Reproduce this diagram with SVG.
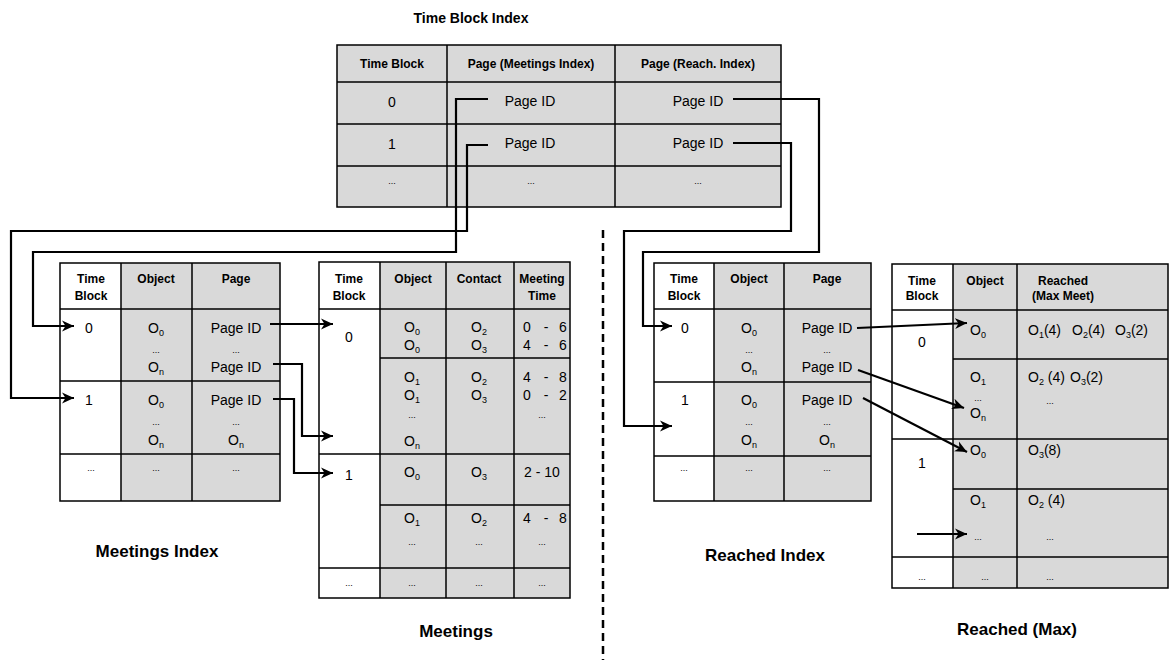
<svg xmlns="http://www.w3.org/2000/svg" width="1170" height="660" viewBox="0 0 1170 660">
<defs>
<marker id="arrow" markerUnits="userSpaceOnUse" markerWidth="14" markerHeight="12" refX="12" refY="6" orient="auto"><path d="M0,0.5 L12,6 L0,11.5 L3.5,6 Z" fill="#000"/></marker>
<style>
.g{fill:#d9d9d9}
.w{fill:#fff}
.frame{fill:none;stroke:#000;stroke-width:1.5}
.grid{fill:none;stroke:#000;stroke-width:1.5}
text{font-family:"Liberation Sans",Arial,Helvetica,sans-serif;fill:#000}
.h{font-size:12px;font-weight:bold;text-anchor:middle}
.t{font-size:14px;text-anchor:middle}
.l{font-size:14px}
.s{font-size:9px}
.d{font-size:9px;text-anchor:middle}
.title{font-size:17px;font-weight:bold;text-anchor:middle}
.link{fill:none;stroke:#000;stroke-width:2.2;marker-end:url(#arrow)}
.sep{fill:none;stroke:#000;stroke-width:2.5;stroke-dasharray:8 5}
</style>
</defs>
<rect width="1170" height="660" fill="#fff"/>

<!-- Time block index -->
<g id="time-block-index">
<text class="title" x="471" y="23" style="font-size:14px">Time Block Index</text>
<rect x="337" y="45" width="444" height="162" class="g"/>
<path class="grid" d="M337 82H781M337 124H781M337 166H781M447 45V207M615 45V207"/>
<rect class="frame" x="337" y="45" width="444" height="162"/>
<text class="h" x="392" y="68">Time Block</text>
<text class="h" x="531" y="68">Page (Meetings Index)</text>
<text class="h" x="698" y="68">Page (Reach. Index)</text>
<text class="t" x="392" y="107">0</text>
<text class="t" x="530" y="106">Page ID</text>
<text class="t" x="698" y="106">Page ID</text>
<text class="t" x="392" y="149">1</text>
<text class="t" x="530" y="148">Page ID</text>
<text class="t" x="698" y="148">Page ID</text>
<text class="d" x="392" y="184">...</text>
<text class="d" x="531" y="184">...</text>
<text class="d" x="698" y="184">...</text>
</g>

<!-- Meetings index -->
<g id="meetings-index">
<rect x="60" y="263" width="61" height="238" class="w"/>
<rect x="121" y="263" width="159" height="238" class="g"/>
<path class="grid" d="M60 309H280M60 381H280M60 454H280M121 263V501M192 263V501"/>
<rect class="frame" x="60" y="263" width="220" height="238"/>
<text class="h" x="91" y="283">Time</text>
<text class="h" x="91" y="300">Block</text>
<text class="h" x="156" y="283">Object</text>
<text class="h" x="236" y="283">Page</text>
<text class="t" x="89" y="333">0</text>
<text class="t" x="156" y="333">O<tspan class="s" dy="3">0</tspan></text>
<text class="d" x="156" y="353">...</text>
<text class="t" x="156" y="372">O<tspan class="s" dy="3">n</tspan></text>
<text class="t" x="236" y="333">Page ID</text>
<text class="d" x="236" y="353">...</text>
<text class="t" x="236" y="372">Page ID</text>
<text class="t" x="89" y="405">1</text>
<text class="t" x="156" y="405">O<tspan class="s" dy="3">0</tspan></text>
<text class="d" x="156" y="425">...</text>
<text class="t" x="156" y="445">O<tspan class="s" dy="3">n</tspan></text>
<text class="t" x="236" y="405">Page ID</text>
<text class="d" x="236" y="425">...</text>
<text class="t" x="236" y="445">O<tspan class="s" dy="3">n</tspan></text>
<text class="d" x="91" y="471">...</text>
<text class="d" x="156" y="471">...</text>
<text class="d" x="236" y="471">...</text>
<text class="title" x="157" y="557">Meetings Index</text>
</g>

<!-- Meetings -->
<g id="meetings">
<rect x="319" y="262" width="61" height="336" class="w"/>
<rect x="380" y="262" width="190" height="336" class="g"/>
<path class="grid" d="M319 309H570M319 454H570M319 568H570M380 358H570M380 505H570M380 262V598M446 262V598M514 262V598"/>
<rect class="frame" x="319" y="262" width="251" height="336"/>
<text class="h" x="349" y="283">Time</text>
<text class="h" x="349" y="300">Block</text>
<text class="h" x="413" y="283">Object</text>
<text class="h" x="479" y="283">Contact</text>
<text class="h" x="542" y="283">Meeting</text>
<text class="h" x="542" y="300">Time</text>
<text class="t" x="349" y="342">0</text>
<text class="t" x="412" y="332">O<tspan class="s" dy="3">0</tspan></text>
<text class="t" x="412" y="350">O<tspan class="s" dy="3">0</tspan></text>
<text class="t" x="479" y="332">O<tspan class="s" dy="3">2</tspan></text>
<text class="t" x="479" y="350">O<tspan class="s" dy="3">3</tspan></text>
<text class="t" y="332"><tspan x="527">0</tspan><tspan x="546">-</tspan><tspan x="563">6</tspan></text>
<text class="t" y="350"><tspan x="527">4</tspan><tspan x="546">-</tspan><tspan x="563">6</tspan></text>
<text class="t" x="412" y="382">O<tspan class="s" dy="3">1</tspan></text>
<text class="t" x="412" y="400">O<tspan class="s" dy="3">1</tspan></text>
<text class="d" x="412" y="418">...</text>
<text class="t" x="412" y="446">O<tspan class="s" dy="3">n</tspan></text>
<text class="t" x="479" y="382">O<tspan class="s" dy="3">2</tspan></text>
<text class="t" x="479" y="400">O<tspan class="s" dy="3">3</tspan></text>
<text class="t" y="382"><tspan x="527">4</tspan><tspan x="546">-</tspan><tspan x="563">8</tspan></text>
<text class="t" y="400"><tspan x="527">0</tspan><tspan x="546">-</tspan><tspan x="563">2</tspan></text>
<text class="d" x="542" y="418">...</text>
<text class="t" x="349" y="480">1</text>
<text class="t" x="412" y="477">O<tspan class="s" dy="3">0</tspan></text>
<text class="t" x="479" y="477">O<tspan class="s" dy="3">3</tspan></text>
<text class="t" x="542" y="477">2 - 10</text>
<text class="t" x="412" y="523">O<tspan class="s" dy="3">1</tspan></text>
<text class="t" x="479" y="523">O<tspan class="s" dy="3">2</tspan></text>
<text class="t" y="523"><tspan x="527">4</tspan><tspan x="546">-</tspan><tspan x="563">8</tspan></text>
<text class="d" x="412" y="545">...</text>
<text class="d" x="479" y="545">...</text>
<text class="d" x="542" y="545">...</text>
<text class="d" x="349" y="586">...</text>
<text class="d" x="412" y="586">...</text>
<text class="d" x="479" y="586">...</text>
<text class="d" x="542" y="586">...</text>
<text class="title" x="456" y="637">Meetings</text>
</g>

<!-- Reached index -->
<g id="reached-index">
<rect x="654" y="263" width="60" height="238" class="w"/>
<rect x="714" y="263" width="157" height="238" class="g"/>
<path class="grid" d="M654 309H871M654 382H871M654 456H871M714 263V501M784 263V501"/>
<rect class="frame" x="654" y="263" width="217" height="238"/>
<text class="h" x="684" y="283">Time</text>
<text class="h" x="684" y="300">Block</text>
<text class="h" x="749" y="283">Object</text>
<text class="h" x="827" y="283">Page</text>
<text class="t" x="685" y="333">0</text>
<text class="t" x="749" y="333">O<tspan class="s" dy="3">0</tspan></text>
<text class="d" x="749" y="353">...</text>
<text class="t" x="749" y="372">O<tspan class="s" dy="3">n</tspan></text>
<text class="t" x="827" y="333">Page ID</text>
<text class="d" x="827" y="353">...</text>
<text class="t" x="827" y="372">Page ID</text>
<text class="t" x="685" y="405">1</text>
<text class="t" x="749" y="405">O<tspan class="s" dy="3">0</tspan></text>
<text class="d" x="749" y="425">...</text>
<text class="t" x="749" y="445">O<tspan class="s" dy="3">n</tspan></text>
<text class="t" x="827" y="405">Page ID</text>
<text class="d" x="827" y="425">...</text>
<text class="t" x="827" y="445">O<tspan class="s" dy="3">n</tspan></text>
<text class="d" x="684" y="471">...</text>
<text class="d" x="749" y="471">...</text>
<text class="d" x="827" y="471">...</text>
<text class="title" x="765" y="561">Reached Index</text>
</g>

<!-- Reached (max) -->
<g id="reached-max">
<rect x="892" y="264" width="61" height="324" class="w"/>
<rect x="953" y="264" width="215" height="324" class="g"/>
<path class="grid" d="M892 310H1168M892 439H1168M892 557H1168M953 359H1168M953 489H1168M953 264V588M1017 264V588"/>
<rect class="frame" x="892" y="264" width="276" height="324"/>
<text class="h" x="922" y="285">Time</text>
<text class="h" x="922" y="300">Block</text>
<text class="h" x="985" y="285">Object</text>
<text class="h" x="1063" y="285">Reached</text>
<text class="h" x="1063" y="300">(Max Meet)</text>
<text class="t" x="922" y="347">0</text>
<text class="t" x="978" y="335">O<tspan class="s" dy="3">0</tspan></text>
<text class="l" x="1028" y="335">O<tspan class="s" dy="3">1</tspan><tspan dy="-3">(4)</tspan></text>
<text class="l" x="1072" y="335">O<tspan class="s" dy="3">2</tspan><tspan dy="-3">(4)</tspan></text>
<text class="l" x="1115" y="335">O<tspan class="s" dy="3">3</tspan><tspan dy="-3">(2)</tspan></text>
<text class="t" x="978" y="382">O<tspan class="s" dy="3">1</tspan></text>
<text class="d" x="978" y="401">...</text>
<text class="t" x="978" y="418">O<tspan class="s" dy="3">n</tspan></text>
<text class="l" x="1028" y="382">O<tspan class="s" dy="3">2</tspan><tspan dy="-3"> (4)</tspan></text>
<text class="l" x="1070" y="382">O<tspan class="s" dy="3">3</tspan><tspan dy="-3">(2)</tspan></text>
<text class="d" x="1050" y="404">...</text>
<text class="t" x="922" y="468">1</text>
<text class="t" x="978" y="455">O<tspan class="s" dy="3">0</tspan></text>
<text class="l" x="1028" y="455">O<tspan class="s" dy="3">3</tspan><tspan dy="-3">(8)</tspan></text>
<text class="t" x="978" y="505">O<tspan class="s" dy="3">1</tspan></text>
<text class="l" x="1028" y="505">O<tspan class="s" dy="3">2</tspan><tspan dy="-3"> (4)</tspan></text>
<text class="d" x="978" y="540">...</text>
<text class="d" x="1050" y="540">...</text>
<text class="d" x="922" y="580">...</text>
<text class="d" x="985" y="580">...</text>
<text class="d" x="1050" y="580">...</text>
<text class="title" x="1017" y="635">Reached (Max)</text>
</g>

<!-- connectors -->
<g id="connectors">
<path class="sep" d="M603 230V660"/>
<path class="link" d="M488 99H456V252H33V326H74"/>
<path class="link" d="M488 145H467V231H11V398H74"/>
<path class="link" d="M733 99H819V252H643V326H672"/>
<path class="link" d="M733 143H791V231H624V426H672"/>
<path class="link" d="M270 324H333"/>
<path class="link" d="M273 364H302V436H333"/>
<path class="link" d="M273 399H294V473H333"/>
<path class="link" d="M857 328L967 323"/>
<path class="link" d="M858 370L964 408"/>
<path class="link" d="M863 398L967 452"/>
<path class="link" d="M917 534H967"/>
</g>
</svg>
